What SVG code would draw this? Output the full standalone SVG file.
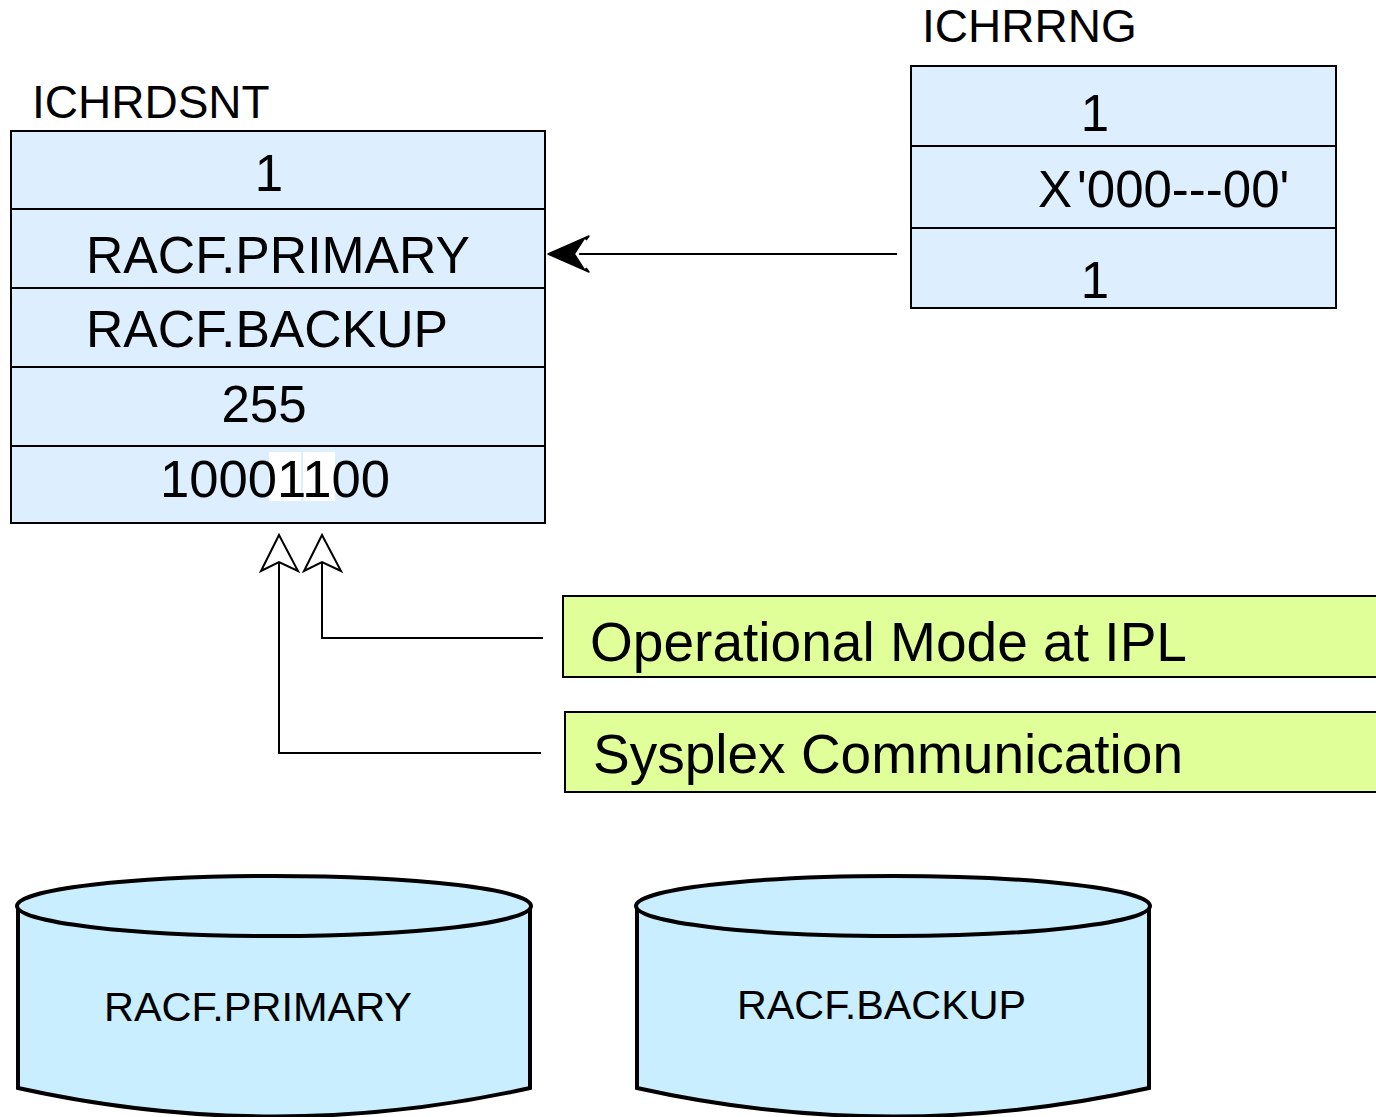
<svg xmlns="http://www.w3.org/2000/svg" width="1376" height="1117" viewBox="0 0 1376 1117">
<style>
text{font-family:"Liberation Sans",Arial,sans-serif;fill:#000}
.row{fill:#DDEEFF;stroke:#000;stroke-width:2}
.lbl{fill:#E1FF99;stroke:#000;stroke-width:2}
.cyl{fill:#C8EEFF;stroke:#000;stroke-width:4}
.con{fill:none;stroke:#000;stroke-width:2}
.t50{font-size:51px}
.t46{font-size:46px}
.t40{font-size:41px}
</style>
<rect width="1376" height="1117" fill="#fff"/>
<g id="ICHRDSNT">
<text class="t46" x="32" y="118">ICHRDSNT</text>
<rect class="row" x="11" y="131" width="534" height="78"/>
<rect class="row" x="11" y="209" width="534" height="79"/>
<rect class="row" x="11" y="288" width="534" height="79"/>
<rect class="row" x="11" y="367" width="534" height="79"/>
<rect class="row" x="11" y="446" width="534" height="77"/>
<rect x="269" y="452" width="32" height="49" fill="#fff"/>
<rect x="303" y="452" width="32" height="49" fill="#fff"/>
<text class="t50" x="269" y="191" text-anchor="middle">1</text>
<text class="t50" x="86" y="273" textLength="384" lengthAdjust="spacingAndGlyphs">RACF.PRIMARY</text>
<text class="t50" x="86" y="347" textLength="362" lengthAdjust="spacingAndGlyphs">RACF.BACKUP</text>
<text class="t50" x="264" y="422" text-anchor="middle">255</text>
<text class="t50" x="160" y="497" textLength="230" lengthAdjust="spacingAndGlyphs">10001100</text>
</g>
<g id="ICHRRNG">
<text class="t46" x="922" y="42">ICHRRNG</text>
<rect class="row" x="911" y="66" width="425" height="80"/>
<rect class="row" x="911" y="146" width="425" height="82"/>
<rect class="row" x="911" y="228" width="425" height="80"/>
<text class="t50" x="1095" y="131" text-anchor="middle">1</text>
<text class="t50" x="1038" y="207">X<tspan dx="5">'000---00'</tspan></text>
<text class="t50" x="1095" y="298" text-anchor="middle">1</text>
</g>
<g id="OpMode">
<rect class="lbl" x="563" y="596" width="820" height="81"/>
<text x="590" y="661" font-size="56" textLength="597" lengthAdjust="spacingAndGlyphs">Operational Mode at IPL</text>
</g>
<g id="Sysplex">
<rect class="lbl" x="565" y="712" width="820" height="80"/>
<text x="593" y="773" font-size="56" textLength="590" lengthAdjust="spacingAndGlyphs">Sysplex Communication</text>
</g>
<g id="PrimaryDS">
<path class="cyl" d="M18,906 L18,1088 Q275,1145 530,1088 L530,906"/>
<ellipse class="cyl" cx="274" cy="906" rx="257" ry="30"/>
<text class="t40" x="104" y="1021" textLength="308" lengthAdjust="spacingAndGlyphs">RACF.PRIMARY</text>
</g>
<g id="BackupDS">
<path class="cyl" d="M637,906 L637,1088 Q893,1145 1149,1088 L1149,906"/>
<ellipse class="cyl" cx="893" cy="906" rx="257" ry="30"/>
<text class="t40" x="737" y="1019" textLength="289" lengthAdjust="spacingAndGlyphs">RACF.BACKUP</text>
</g>
<g id="connectors">
<line class="con" x1="897" y1="254" x2="578" y2="254"/>
<path d="M548,254 L589,236 L576,254 L589,272 Z" fill="#000" stroke="#000" stroke-width="1.5" stroke-linejoin="round"/>
<polyline points="586,240 577,254 586,268" fill="none" stroke="#fff" stroke-width="3"/>
</g>
<g id="connectors-up">
<polyline class="con" points="543,638 322,638 322,563"/>
<path d="M322,535 L341,571 L322,562 L304,571 Z" fill="#fff" stroke="#000" stroke-width="2" stroke-linejoin="miter"/>
<polyline class="con" points="541,753 279,753 279,563"/>
<path d="M279,535 L298,571 L279,562 L261,571 Z" fill="#fff" stroke="#000" stroke-width="2" stroke-linejoin="miter"/>
</g>
</svg>
